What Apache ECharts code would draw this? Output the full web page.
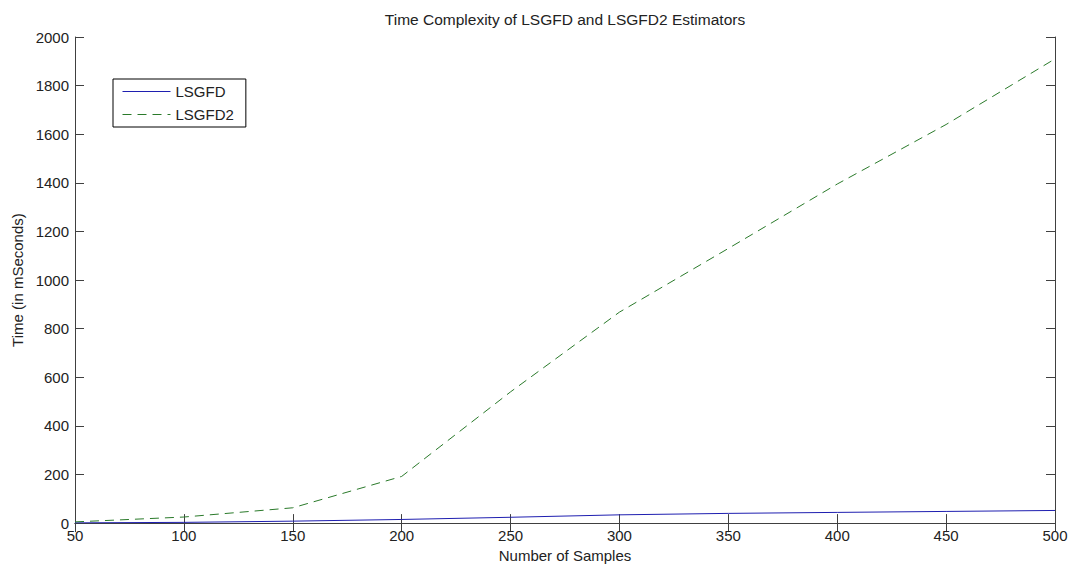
<!DOCTYPE html>
<html>
<head>
<meta charset="utf-8">
<script src="https://cdn.jsdelivr.net/npm/echarts@6/dist/echarts.min.js"></script>
<style>
  html, body { margin: 0; padding: 0; background: #fff; }
  #main { width: 1071px; height: 568px; }
</style>
</head>
<body>
<div id="main"></div>
<script>
// values
const samples = [50, 100, 150, 200, 250, 300, 350, 400, 450, 500];
const lsgfd = [1, 3, 8, 15, 24, 34, 40, 44, 48, 52];
const lsgfd2 = [5, 25, 63, 192, 540, 868, 1130, 1395, 1640, 1910];

const FONT = 'Liberation Sans, Arial, sans-serif';
const AX = '#404040';

const chart = echarts.init(document.getElementById('main'), null, {renderer: 'svg'});

function pairs(xs, ys) {
  return xs.map((x, i) => [x, ys[i]]);
}

const tickInside = {show: true, inside: true, length: 9, lineStyle: {color: AX}};

let option = {
  backgroundColor: '#fff',
  animation: false,
  title: {
    text: 'Time Complexity of LSGFD and LSGFD2 Estimators',
    left: 565,
    top: 11,
    padding: 0,
    textAlign: 'center',
    textStyle: {fontFamily: FONT, fontSize: 15.5, fontWeight: 'normal', color: '#222'}
  },
  legend: {
    orient: 'vertical',
    left: 113,
    top: 79,
    padding: [5, 12, 5, 9],
    itemGap: 8,
    itemWidth: 48,
    itemHeight: 14,
    borderColor: '#000',
    borderWidth: 1,
    backgroundColor: '#fff',
    // hide the marker symbol, keep only the line sample
    itemStyle: {color: 'rgba(0,0,0,0)', borderWidth: 0, opacity: 0},
    lineStyle: {width: 1},
    textStyle: {fontFamily: FONT, fontSize: 15, color: '#222'},
    data: ['LSGFD', 'LSGFD2']
  },
  grid: {left: 75, right: 16, top: 37, bottom: 40},
  xAxis: [
    {
      type: 'value',
      min: 50, max: 500, interval: 50,
      name: 'Number of Samples',
      nameLocation: 'middle',
      nameGap: 22,
      nameTextStyle: {fontFamily: FONT, fontSize: 15, color: '#222'},
      axisLine: {show: true, lineStyle: {color: AX}},
      axisTick: tickInside,
      axisLabel: {fontFamily: FONT, fontSize: 15, color: '#222', margin: 5},
      splitLine: {show: false}
    },
    {
      type: 'value', position: 'top',
      min: 50, max: 500, interval: 50,
      axisLine: {show: true, lineStyle: {color: AX}},
      axisTick: tickInside,
      axisLabel: {show: false},
      splitLine: {show: false}
    }
  ],
  yAxis: [
    {
      type: 'value',
      min: 0, max: 2000, interval: 200,
      name: 'Time (in mSeconds)',
      nameLocation: 'middle',
      nameGap: 48,
      nameTextStyle: {fontFamily: FONT, fontSize: 15, color: '#222'},
      axisLine: {show: true, lineStyle: {color: AX}},
      axisTick: tickInside,
      axisLabel: {
        fontFamily: FONT, fontSize: 15, color: '#222', margin: 6,
        formatter: (v) => String(v)
      },
      splitLine: {show: false}
    },
    {
      type: 'value', position: 'right',
      min: 0, max: 2000, interval: 200,
      axisLine: {show: true, lineStyle: {color: AX}},
      axisTick: tickInside,
      axisLabel: {show: false},
      splitLine: {show: false}
    }
  ],
  series: [
    {
      name: 'LSGFD',
      type: 'line',
      data: pairs(samples, lsgfd),
      symbol: 'none',
      lineStyle: {color: '#1f1fb0', width: 1},
      itemStyle: {color: '#1f1fb0'},
      emphasis: {disabled: true}
    },
    {
      name: 'LSGFD2',
      type: 'line',
      data: pairs(samples, lsgfd2),
      symbol: 'none',
      lineStyle: {color: '#2a7a2a', width: 1, type: [9, 6]},
      itemStyle: {color: '#2a7a2a'},
      emphasis: {disabled: true}
    }
  ]
};

chart.setOption(option);
</script>
</body>
</html>
